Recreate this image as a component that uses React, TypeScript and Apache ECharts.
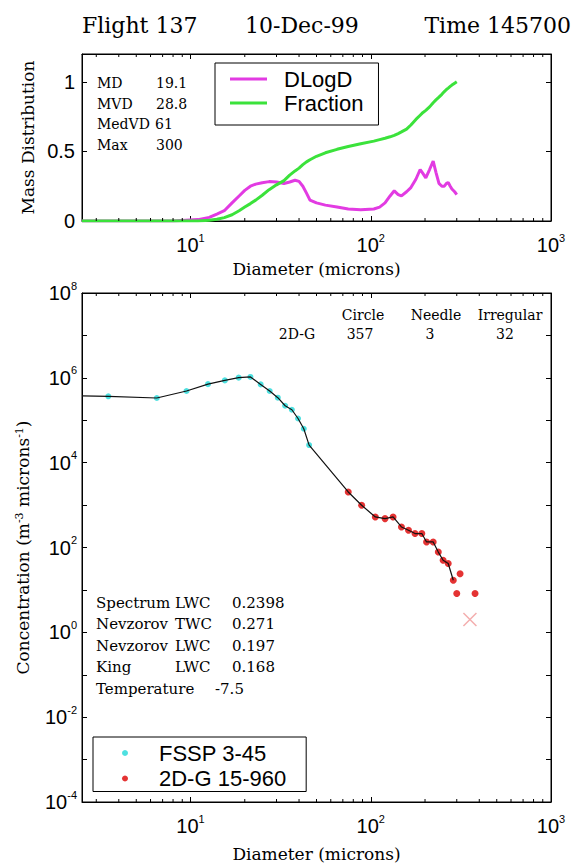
import React, { useEffect, useRef } from 'react';
import * as echarts from 'echarts';

const SANS = '"Liberation Sans", Arial, sans-serif';
const SERIF = '"DejaVu Serif", serif';
const INK = '#000';

// ---- Header ----
const titleParts = ['Flight 137', '10-Dec-99', 'Time 145700'];

// ---- Top panel: mass distribution ----
const massDiameter = [2.5, 8, 11, 12.7, 14, 15.4, 17, 18.6, 20, 21.5, 23, 25, 27.3, 30, 33, 35.5, 38, 40, 42, 44, 46, 50, 56, 65, 75, 88, 104, 112, 120, 128, 135, 142, 148, 158, 167, 178, 188, 195, 202, 212, 222, 230, 239, 248, 256, 263, 269, 276, 282, 292, 300];
const massDLogD = [0, 0, 0.01, 0.026, 0.05, 0.074, 0.13, 0.18, 0.22, 0.25, 0.265, 0.275, 0.283, 0.28, 0.27, 0.28, 0.293, 0.285, 0.25, 0.2, 0.15, 0.13, 0.114, 0.1, 0.086, 0.08, 0.086, 0.1, 0.13, 0.18, 0.217, 0.19, 0.18, 0.21, 0.24, 0.3, 0.37, 0.34, 0.31, 0.37, 0.43, 0.35, 0.27, 0.25, 0.25, 0.27, 0.276, 0.25, 0.23, 0.21, 0.19];
const massFraction = [0, 0, 0, 0.005, 0.012, 0.024, 0.045, 0.074, 0.1, 0.125, 0.15, 0.185, 0.225, 0.26, 0.29, 0.33, 0.36, 0.38, 0.405, 0.425, 0.44, 0.465, 0.49, 0.515, 0.535, 0.555, 0.574, 0.585, 0.595, 0.605, 0.615, 0.628, 0.64, 0.66, 0.69, 0.73, 0.76, 0.78, 0.795, 0.82, 0.85, 0.87, 0.89, 0.91, 0.93, 0.945, 0.955, 0.967, 0.977, 0.99, 1.0];
const massStatLabels = ['MD', 'MVD', 'MedVD', 'Max'];
const massStatValues = ['19.1', '28.8', '61', '300'];

// ---- Bottom panel: size spectrum ----
const fsspDiameter = [3.5, 6.5, 9.5, 12.5, 15.5, 18.5, 21.5, 24.5, 27.5, 30.5, 33.5, 36.5, 39.5, 42.5, 45.5];
const fsspConc = [3.67e5, 3.35e5, 4.9e5, 7.1e5, 8.7e5, 1.01e6, 1.05e6, 7.0e5, 4.9e5, 3.4e5, 2.2e5, 1.77e5, 1.1e5, 6.3e4, 2.6e4];
const g2dDiameter = [75, 89, 106, 120, 133, 148, 162, 176, 192, 204, 222, 237, 252, 269, 287, 300, 313, 379];
const g2dConc = [2040, 990, 525, 480, 525, 305, 255, 213, 213, 135, 135, 78, 50, 42, 16.9, 8.2, 24, 8.2];
const fitStart = [2.5, 3.75e5];
const fitEndDiameter = 290;
const maxMarker = [355, 2.0];

const habitNames = ['Circle', 'Needle', 'Irregular'];
const habitCounts = ['357', '3', '32'];
const habitProbe = '2D-G';

const spectrumRows = [
  ['Spectrum', 'LWC', '0.2398'],
  ['Nevzorov', 'TWC', '0.271'],
  ['Nevzorov', 'LWC', '0.197'],
  ['King', 'LWC', '0.168'],
  ['Temperature', '', '-7.5'],
];

// minor tick positions of the log diameter axis
const minorTickValues = [3, 4, 5, 6, 7, 8, 9, 20, 30, 40, 50, 60, 70, 80, 90, 200, 300, 400, 500, 600, 700, 800, 900];

const zip = (xs: number[], ys: number[]) => xs.map((x, i) => [x, ys[i]]);

const supRich = {
  b: { fontSize: 20, fontFamily: SANS, color: INK, lineHeight: 26 },
  e: { fontSize: 11, fontFamily: SANS, color: INK, verticalAlign: 'top', lineHeight: 11 },
};

const fmtPow10 = (v: number) => {
  const l = Math.log10(v);
  const r = Math.round(l);
  if (Math.abs(l - r) > 1e-6) return '';
  return `{b|10}{e|${r}}`;
};
const fmtExp = (v: number) => {
  const r = Math.round(v);
  return r % 2 === 0 ? `{b|10}{e|${r}}` : '';
};

const line = { show: true, onZero: false, lineStyle: { color: INK, width: 1 } };
const tick = { show: true, inside: true, length: 5, lineStyle: { color: INK, width: 1 } };

const logX = (grid: number, pos: 'top' | 'bottom', labelled: boolean, nameGap: number) => ({
  gridIndex: grid,
  type: 'log',
  logBase: 10,
  position: pos,
  min: 2.5,
  max: 1000,
  axisLine: line,
  axisTick: tick,
  minorTick: { show: false },
  splitLine: { show: false },
  minorSplitLine: { show: false },
  axisLabel: labelled
    ? { show: true, formatter: fmtPow10, rich: supRich, margin: 11, color: INK }
    : { show: false },
  name: labelled ? 'Diameter (microns)' : '',
  nameLocation: 'middle',
  nameGap,
  nameTextStyle: { fontFamily: SERIF, fontSize: 17, color: INK },
});

const minorTickSeries = (xIdx: number, yIdx: number, yLow: number, yHigh: number) => ({
  type: 'custom',
  name: 'minor-ticks',
  xAxisIndex: xIdx,
  yAxisIndex: yIdx,
  silent: true,
  clip: false,
  z: 5,
  data: minorTickValues.map((v) => [v, yLow]),
  renderItem: (_p: any, api: any) => {
    const v = api.value(0);
    const b = api.coord([v, yLow]);
    const t = api.coord([v, yHigh]);
    const st = { stroke: INK, lineWidth: 1 };
    return {
      type: 'group',
      children: [
        { type: 'line', shape: { x1: b[0], y1: b[1], x2: b[0], y2: b[1] - 3 }, style: st },
        { type: 'line', shape: { x1: t[0], y1: t[1], x2: t[0], y2: t[1] + 3 }, style: st },
      ],
    };
  },
});

const option: any = {
  animation: false,
  backgroundColor: '#fff',
  title: titleParts.map((t, i) => ({
    text: t,
    top: 13,
    padding: 0,
    ...(i === 0 ? { left: 82 } : i === 1 ? { left: 245 } : { right: 15 }),
    textStyle: { fontFamily: SERIF, fontSize: 22, fontWeight: 'normal', color: INK, lineHeight: 24 },
  })),
  grid: [
    { left: 82, top: 54, width: 469, height: 167, show: true, borderColor: INK, borderWidth: 1, backgroundColor: 'transparent', outerBoundsMode: 'none' },
    { left: 82, top: 293, width: 469, height: 509, show: true, borderColor: INK, borderWidth: 1, backgroundColor: 'transparent', outerBoundsMode: 'none' },
  ],
  xAxis: [
    logX(0, 'bottom', true, 39),
    logX(0, 'top', false, 0),
    logX(1, 'bottom', true, 43),
    logX(1, 'top', false, 0),
  ],
  yAxis: [
    {
      gridIndex: 0, type: 'value', position: 'left', min: 0, max: 1.2, interval: 0.5,
      axisLine: line, axisTick: tick, splitLine: { show: false },
      axisLabel: { formatter: (v: number) => (v > 1.1 ? '' : String(v)), fontFamily: SANS, fontSize: 20, color: INK, margin: 7 },
      name: 'Mass Distribution', nameLocation: 'middle', nameRotate: 90, nameGap: 44,
      nameTextStyle: { fontFamily: SERIF, fontSize: 17, color: INK },
    },
    {
      gridIndex: 0, type: 'value', position: 'right', min: 0, max: 1.2, interval: 0.5,
      axisLine: line, axisTick: tick, splitLine: { show: false }, axisLabel: { show: false },
    },
    {
      gridIndex: 1, type: 'log', logBase: 10, position: 'left', min: 1e-4, max: 1e8, show: false,
      splitLine: { show: false },
    },
    {
      gridIndex: 1, type: 'value', position: 'left', min: -4, max: 8, interval: 1,
      axisLine: line, axisTick: tick, splitLine: { show: false },
      axisLabel: { formatter: fmtExp, rich: supRich, margin: 5, color: INK },
      name: 'Concentration (m{s|-3} microns{s|-1})', nameLocation: 'middle', nameRotate: 90, nameGap: 51,
      nameTextStyle: {
        fontFamily: SERIF, fontSize: 17, color: INK,
        rich: { s: { fontFamily: SERIF, fontSize: 11, color: INK, verticalAlign: 'top', lineHeight: 11 } },
      },
    },
    {
      gridIndex: 1, type: 'value', position: 'right', min: -4, max: 8, interval: 1,
      axisLine: line, axisTick: tick, splitLine: { show: false }, axisLabel: { show: false },
    },
  ],
  legend: [
    {
      data: [{ name: 'DLogD', icon: 'rect' }, { name: 'Fraction', icon: 'rect' }],
      orient: 'vertical', left: 215, top: 63,
      itemWidth: 37, itemHeight: 3, itemGap: 2,
      padding: [5, 15, 11, 15],
      borderColor: INK, borderWidth: 1, backgroundColor: '#fff',
      selectedMode: false,
      textStyle: { fontFamily: SANS, fontSize: 22, color: INK, lineHeight: 22, padding: [0, 0, 0, 12] },
    },
    {
      data: [{ name: 'FSSP 3-45', icon: 'circle' }, { name: '2D-G 15-960', icon: 'circle' }],
      orient: 'vertical', left: 93, top: 737,
      itemWidth: 6, itemHeight: 6, itemGap: 3.5,
      padding: [5, 20, 2, 29],
      borderColor: INK, borderWidth: 1, backgroundColor: '#fff',
      selectedMode: false,
      textStyle: { fontFamily: SANS, fontSize: 22, color: INK, lineHeight: 22, padding: [0, 0, 0, 26] },
    },
  ],
  series: [
    {
      type: 'line', name: 'DLogD', xAxisIndex: 0, yAxisIndex: 0,
      data: zip(massDiameter, massDLogD), symbol: 'none',
      lineStyle: { color: '#e23be2', width: 3 }, itemStyle: { color: '#e23be2' },
    },
    {
      type: 'line', name: 'Fraction', xAxisIndex: 0, yAxisIndex: 0,
      data: zip(massDiameter, massFraction), symbol: 'none',
      lineStyle: { color: '#3be23b', width: 3 }, itemStyle: { color: '#3be23b' },
    },
    {
      type: 'scatter', name: 'FSSP 3-45', xAxisIndex: 2, yAxisIndex: 2,
      data: zip(fsspDiameter, fsspConc), symbol: 'circle', symbolSize: 6,
      itemStyle: { color: '#22d8d8' }, z: 2,
    },
    {
      type: 'scatter', name: '2D-G 15-960', xAxisIndex: 2, yAxisIndex: 2,
      data: zip(g2dDiameter, g2dConc), symbol: 'circle', symbolSize: 7,
      itemStyle: { color: '#dd0000' }, z: 2,
    },
    {
      type: 'line', name: 'Combined', xAxisIndex: 2, yAxisIndex: 2,
      data: [
        fitStart,
        ...zip(fsspDiameter, fsspConc),
        ...zip(g2dDiameter, g2dConc).filter((p) => p[0] <= fitEndDiameter),
      ],
      symbol: 'none', lineStyle: { color: '#111', width: 1.2 }, z: 3,
    },
    {
      type: 'scatter', name: 'Max', xAxisIndex: 2, yAxisIndex: 2,
      data: [maxMarker], symbol: 'path://M0,0L10,10M10,0L0,10', symbolSize: 13,
      itemStyle: { color: 'none', borderColor: '#f09a9a', borderWidth: 1.5 }, z: 2,
    },
    minorTickSeries(0, 0, 0, 1.2),
    minorTickSeries(2, 2, 1e-4, 1e8),
  ],
  graphic: {
    elements: [
      ...massStatLabels.map((t, i) => ({
        type: 'text', x: 97, y: 83 + i * 20.7,
        style: { text: t, fontFamily: SERIF, fontSize: 14, fill: INK, verticalAlign: 'middle', textVerticalAlign: 'middle' },
      })),
      ...massStatValues.map((t, i) => ({
        type: 'text', x: i === 2 ? 155 : 156, y: 83 + i * 20.7,
        style: { text: t, fontFamily: SERIF, fontSize: 14, fill: INK, verticalAlign: 'middle', textVerticalAlign: 'middle' },
      })),
      ...habitNames.map((t, i) => ({
        type: 'text', x: [363, 436, 510][i], y: 315,
        style: { text: t, fontFamily: SERIF, fontSize: 14, fill: INK, align: 'center', textAlign: 'center', verticalAlign: 'middle', textVerticalAlign: 'middle' },
      })),
      ...[habitProbe, ...habitCounts].map((t, i) => ({
        type: 'text', x: [297, 360, 430, 505][i], y: 334,
        style: { text: t, fontFamily: SERIF, fontSize: 14, fill: INK, align: 'center', textAlign: 'center', verticalAlign: 'middle', textVerticalAlign: 'middle' },
      })),
      ...spectrumRows.flatMap((row, i) =>
        row.map((t, j) => ({
          type: 'text',
          x: j === 0 ? 96 : j === 1 ? 175 : row[1] === '' ? 215 : 232,
          y: 603 + i * 21.4,
          style: { text: t, fontFamily: SERIF, fontSize: 15, fill: INK, verticalAlign: 'middle', textVerticalAlign: 'middle' },
        }))
      ),
    ],
  },
};

export default function App() {
  const ref = useRef<HTMLDivElement>(null);
  useEffect(() => {
    if (!ref.current) return;
    const chart = echarts.init(ref.current, null, { renderer: 'svg' });
    chart.setOption(option);
    return () => chart.dispose();
  }, []);
  return (
    <div
      ref={ref}
      style={{ position: 'fixed', left: 0, top: 0, width: 586, height: 865, background: '#fff' }}
    />
  );
}
